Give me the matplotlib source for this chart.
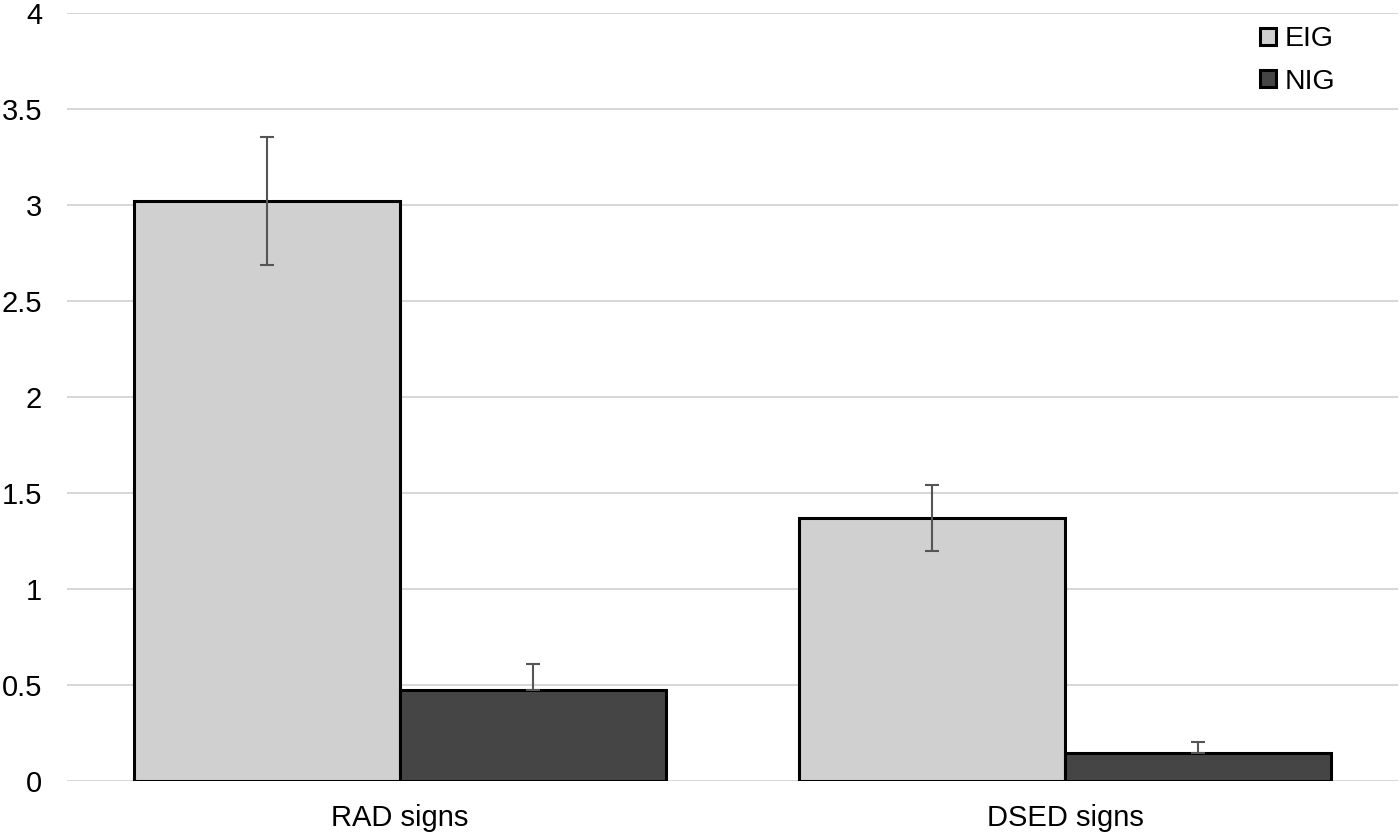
import matplotlib
matplotlib.use("Agg")
import matplotlib.pyplot as plt
import numpy as np

categories = ["RAD signs", "DSED signs"]
series_names = ["EIG", "NIG"]
eig_values = [3.02, 1.37]
eig_errors = [0.333, 0.172]
nig_values = [0.474, 0.144]
nig_errors = [0.134, 0.059]
yticks = [0, 0.5, 1, 1.5, 2, 2.5, 3, 3.5, 4]
ytick_labels = ["0", "0.5", "1", "1.5", "2", "2.5", "3", "3.5", "4"]

plt.rcParams['font.family'] = ['Liberation Sans', 'DejaVu Sans']

fig = plt.figure(figsize=(14, 8.36), dpi=100)
ax = fig.add_axes([0.048, 0.0658, 0.9506, 0.9186])

x = np.arange(len(categories))
w = 0.4
ekw = dict(ecolor='#555555', elinewidth=1.5, capsize=5, capthick=1.5)
ax.bar(x - w/2, eig_values, width=w, color='#d0d0d0', edgecolor='black',
       linewidth=2.2, label=series_names[0], zorder=2)
ax.bar(x + w/2, nig_values, width=w, color='#454545', edgecolor='black',
       linewidth=2.2, label=series_names[1], zorder=2)
ax.errorbar(x - w/2, eig_values, yerr=eig_errors, fmt='none', zorder=3, **ekw)
ax.errorbar(x + w/2, nig_values, yerr=[np.zeros(len(nig_errors)), nig_errors],
            fmt='none', zorder=3, **ekw)

ax.set_xlim(-0.5, 1.5)
ax.set_ylim(0, 4)
ax.set_yticks(yticks)
ax.set_yticklabels(ytick_labels)
ax.set_xticks(x)
ax.set_xticklabels(categories)
ax.grid(axis='y', color='#d0d0d0', linewidth=1.2, zorder=0)
ax.set_axisbelow(True)
for s in ax.spines.values():
    s.set_visible(False)
ax.tick_params(axis='both', length=0, labelsize=21)
ax.tick_params(axis='y', pad=18)
ax.tick_params(axis='x', pad=16.5)

leg = ax.legend(loc='upper right', bbox_to_anchor=(0.972, 1.016), frameon=False,
                fontsize=20.5, handlelength=0.55, handleheight=0.55,
                handletextpad=0.3, labelspacing=0.58)

fig.savefig("out.png", dpi=100)
